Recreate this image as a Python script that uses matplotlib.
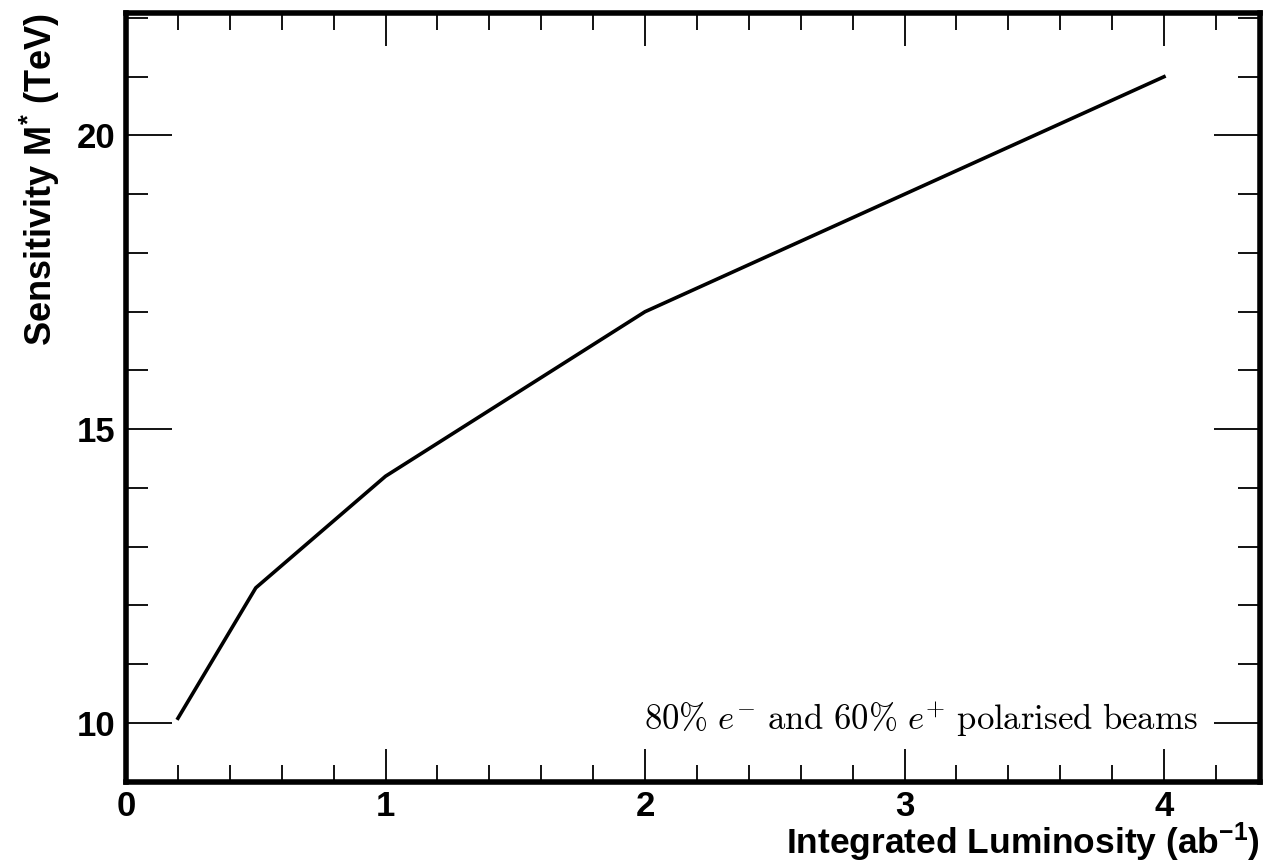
import matplotlib
matplotlib.use("Agg")
import matplotlib.pyplot as plt
from matplotlib.ticker import MultipleLocator

# Sensitivity vs integrated luminosity
lumi = [0.2, 0.5, 1.0, 2.0, 4.0]
sensitivity = [10.08, 12.3, 14.2, 17.0, 21.0]

plt.rcParams['font.family'] = ['Liberation Sans', 'DejaVu Sans']
plt.rcParams['font.weight'] = 'bold'
plt.rcParams['mathtext.fontset'] = 'custom'
plt.rcParams['mathtext.rm'] = 'Liberation Sans:bold'
plt.rcParams['mathtext.bf'] = 'Liberation Sans:bold'
plt.rcParams['mathtext.it'] = 'Liberation Sans:bold'

fig = plt.figure(figsize=(12.68, 8.68), dpi=100)
ax = fig.add_axes([0.0994, 0.0994, 0.8943, 0.8853])

ax.plot(lumi, sensitivity, color='black', lw=2.6)

ax.set_xlim(0, 4.37)
ax.set_ylim(9.0, 22.08)

ax.xaxis.set_major_locator(MultipleLocator(1))
ax.xaxis.set_minor_locator(MultipleLocator(0.2))
ax.yaxis.set_major_locator(MultipleLocator(5))
ax.yaxis.set_minor_locator(MultipleLocator(1))

ax.tick_params(axis='both', which='both', direction='in', top=True, right=True,
               width=1.3, labelsize=25)
ax.tick_params(axis='x', which='major', length=24, pad=6)
ax.tick_params(axis='x', which='minor', length=12)
ax.tick_params(axis='y', which='major', length=33, pad=8)
ax.tick_params(axis='y', which='minor', length=16)

for sp in ax.spines.values():
    sp.set_linewidth(4)

ax.set_xlabel(r"Integrated Luminosity (ab$^{\mathrm{-1}}$)", fontsize=25.5,
              fontweight='bold', loc='right', labelpad=-2)
ax.set_ylabel(r"Sensitivity M$^{*}$ (TeV)", fontsize=26,
              fontweight='bold', loc='top', labelpad=10)

ax.text(0.945, 0.067,
        r"$\mathrm{80\%}\ e^{-}\ \mathrm{and\ 60\%}\ e^{+}\ \mathrm{polarised\ beams}$",
        transform=ax.transAxes, ha='right', va='baseline', fontsize=25,
        math_fontfamily='cm')

fig.savefig("out.png", dpi=100)
